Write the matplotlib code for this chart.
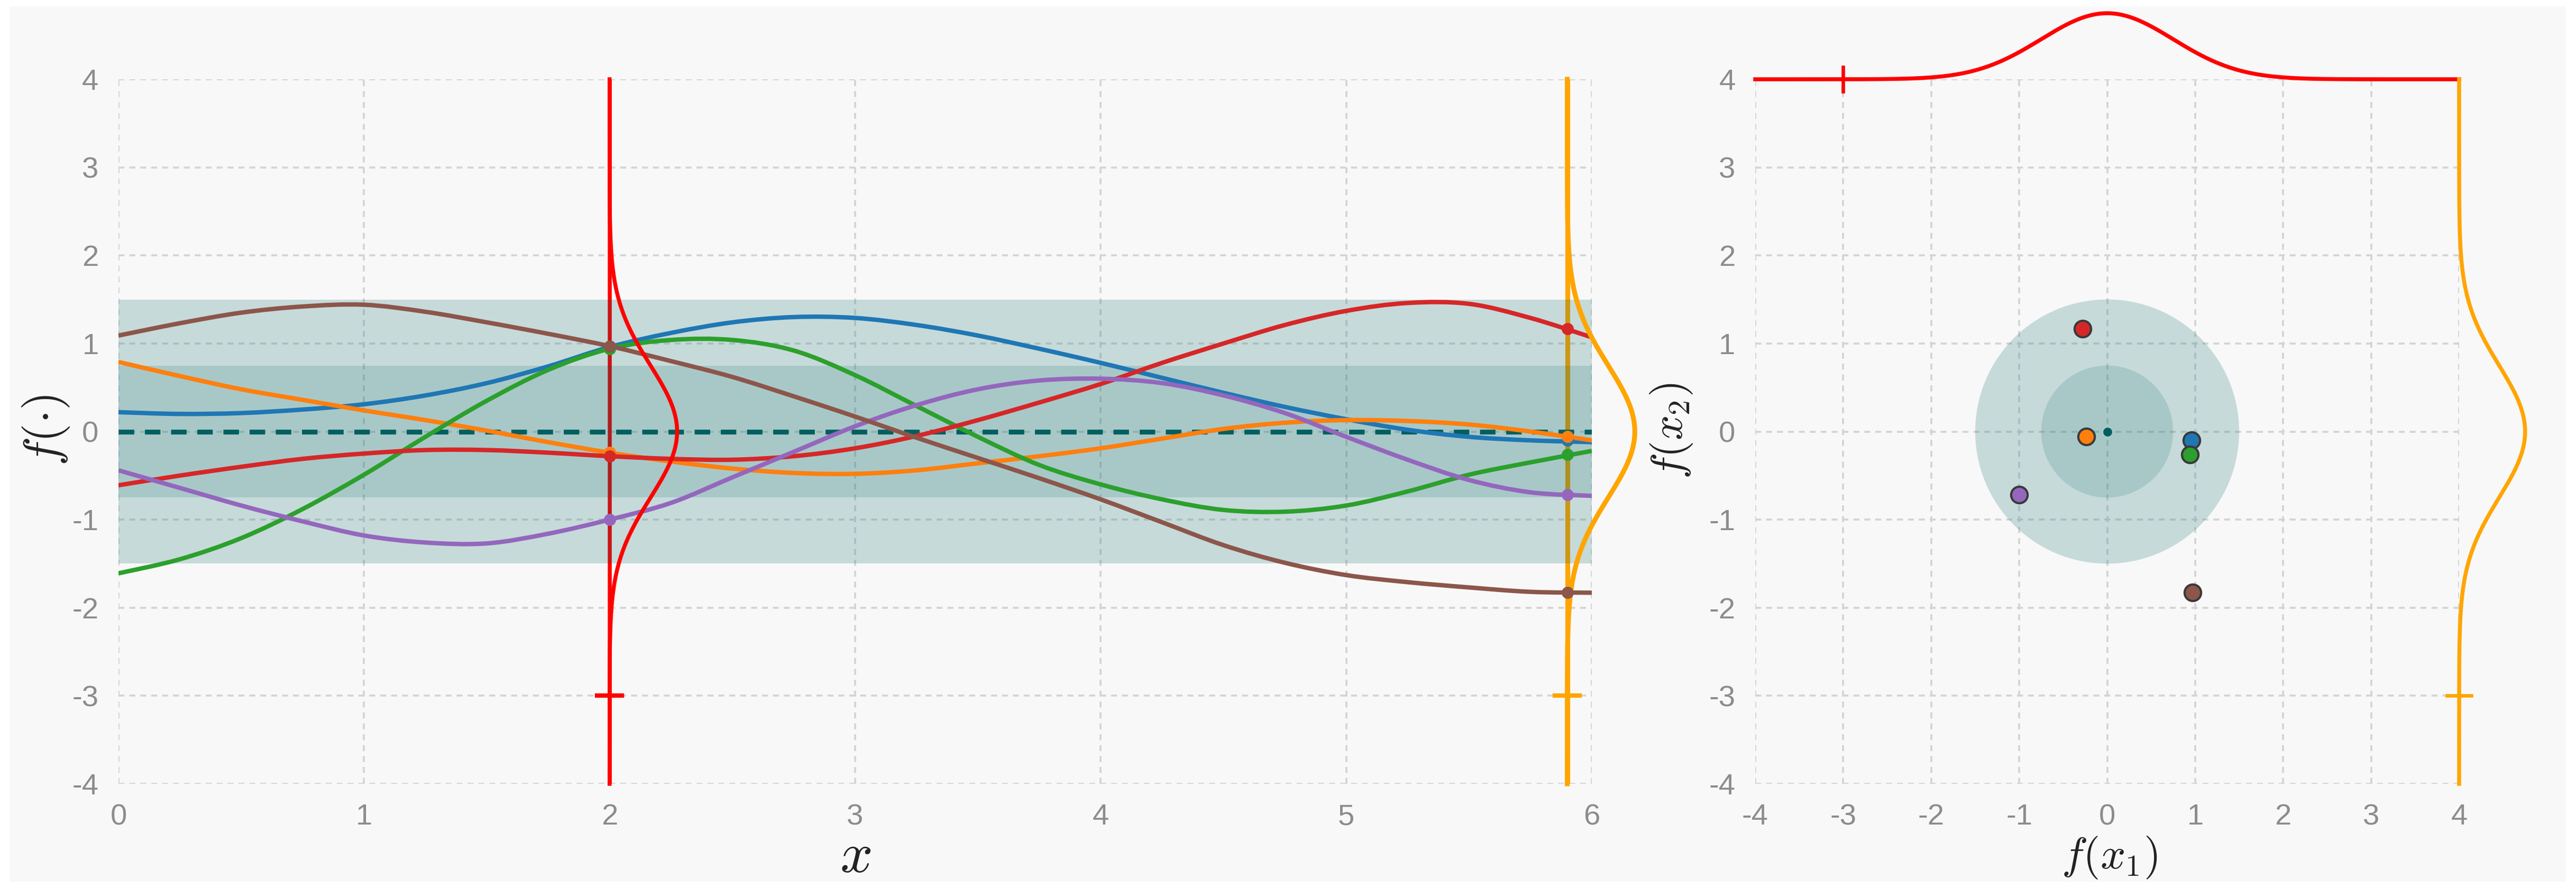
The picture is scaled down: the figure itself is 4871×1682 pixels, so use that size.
import numpy as np
import matplotlib.pyplot as plt
from matplotlib.patches import Circle, Rectangle, PathPatch
from matplotlib.path import Path

# Fonts and text style
plt.rcParams['font.family'] = ['Liberation Sans', 'DejaVu Sans']
plt.rcParams['mathtext.fontset'] = 'cm'
plt.rcParams['axes.unicode_minus'] = False

# -----------------------------
# Data
# -----------------------------
xGrid = [0.0, 0.25, 0.5, 0.75, 1.0, 1.25, 1.5, 1.75, 2.0, 2.25, 2.5, 2.75, 3.0,
         3.25, 3.5, 3.75, 4.0, 4.25, 4.5, 4.75, 5.0, 5.25, 5.5, 5.75, 6.0]

sampleBlue = [0.22, 0.20, 0.21, 0.25, 0.31, 0.41, 0.55, 0.74, 0.96, 1.12, 1.24, 1.30, 1.29,
              1.21, 1.09, 0.94, 0.78, 0.61, 0.44, 0.28, 0.14, 0.02, -0.06, -0.10, -0.12]
sampleOrange = [0.79, 0.63, 0.48, 0.36, 0.24, 0.13, 0.01, -0.12, -0.24, -0.34, -0.42, -0.47, -0.48,
                -0.44, -0.36, -0.28, -0.19, -0.08, 0.03, 0.10, 0.13, 0.12, 0.08, 0.0, -0.10]
sampleGreen = [-1.61, -1.45, -1.21, -0.88, -0.49, -0.06, 0.35, 0.70, 0.94, 1.04, 1.04, 0.92, 0.64,
               0.29, -0.06, -0.38, -0.60, -0.77, -0.89, -0.91, -0.84, -0.68, -0.49, -0.35, -0.22]
sampleRed = [-0.61, -0.50, -0.40, -0.31, -0.25, -0.21, -0.21, -0.24, -0.28, -0.31, -0.32, -0.28, -0.19,
             -0.05, 0.13, 0.33, 0.54, 0.78, 1.00, 1.21, 1.37, 1.46, 1.45, 1.29, 1.07]
samplePurple = [-0.44, -0.64, -0.84, -1.02, -1.18, -1.26, -1.27, -1.16, -1.00, -0.81, -0.52, -0.23, 0.06,
                0.30, 0.48, 0.58, 0.60, 0.55, 0.41, 0.21, -0.06, -0.32, -0.55, -0.69, -0.73]
sampleBrown = [1.09, 1.23, 1.35, 1.42, 1.44, 1.36, 1.24, 1.11, 0.97, 0.80, 0.62, 0.40, 0.17,
               -0.07, -0.30, -0.53, -0.77, -1.03, -1.29, -1.49, -1.63, -1.71, -1.77, -1.82, -1.83]

samples = [sampleBlue, sampleOrange, sampleGreen, sampleRed, samplePurple, sampleBrown]
sampleColors = ["#1f77b4", "#ff7f0e", "#2ca02c", "#d62728", "#9467bd", "#8c564b"]

# The two input locations and the sample values there
x1 = 2.0
x2 = 5.9
fx1 = [0.96, -0.24, 0.94, -0.28, -1.00, 0.97]
fx2 = [-0.10, -0.06, -0.26, 1.17, -0.72, -1.83]

# Prior mean / std
priorMean = 0.0
priorStd = 0.75

# Styling
bandColor = "#006666"
meanColor = "#005f5f"
redLine = "#ff0000"
orangeLine = "#ffa500"
tickColor = "#8c8c8c"
gridColor = "#d4d4d4"
bgColor = "#f8f8f8"


def gauss(v, mu, sd):
    return np.exp(-0.5 * ((v - mu) / sd) ** 2)


def smooth_path(xs, ys):
    # Catmull-Rom through the read points, drawn as cubic Bezier segments
    p = np.column_stack([xs, ys]).astype(float)
    ext = np.vstack([p[0], p, p[-1]])
    verts = [p[0]]
    codes = [Path.MOVETO]
    for i in range(len(p) - 1):
        p0, p1, p2, p3 = ext[i], ext[i + 1], ext[i + 2], ext[i + 3]
        verts += [p1 + (p2 - p0) / 6.0, p2 - (p3 - p1) / 6.0, p2]
        codes += [Path.CURVE4] * 3
    return Path(verts, codes)


def style_axes(ax, xlim, ylim, xticks, yticks):
    ax.set_facecolor("none")
    ax.set_xlim(*xlim)
    ax.set_ylim(*ylim)
    ax.set_xticks(xticks)
    ax.set_yticks(yticks)
    ax.set_xticklabels([str(t) for t in xticks])
    ax.set_yticklabels([str(t) for t in yticks])
    ax.tick_params(length=0, pad=9, labelsize=13.5, labelcolor=tickColor)
    for s in ax.spines.values():
        s.set_visible(False)
    ax.grid(True, color=gridColor, lw=0.9, linestyle=(0, (3, 2.5)), zorder=0)
    ax.set_axisbelow(True)


W, H = 4871, 1682
fig = plt.figure(figsize=(W / 300, H / 300), dpi=300, facecolor="white")
fig.patches.append(Rectangle((18 / W, 14 / H), 1 - 37 / W, 1 - 26 / H, transform=fig.transFigure,
                             facecolor=bgColor, edgecolor="none", zorder=-10))

axL = fig.add_axes([224 / W, (H - 1483) / H, 2786 / W, 1333 / H])
axR = fig.add_axes([3319 / W, (H - 1483) / H, 1331 / W, 1333 / H])

# -------------------
# Left: function space
# -------------------
style_axes(axL, (0, 6), (-4, 4), [0, 1, 2, 3, 4, 5, 6], [-4, -3, -2, -1, 0, 1, 2, 3, 4])

yy = np.linspace(-4, 4, 600)
densLeft = 0.275  # peak width in x units

# Vertical lines at the two inputs (under the bands)
axL.plot([x1, x1], [-4, 4], color=redLine, lw=1.8, zorder=1, solid_capstyle="butt")
axL.plot([x2, x2], [-4, 4], color=orangeLine, lw=2.2, zorder=1, solid_capstyle="butt")
axL.plot([x1 - 0.05, x1 + 0.05], [-3, -3], color=redLine, lw=2.0, zorder=1)
axL.plot([x2 - 0.05, x2 + 0.05], [-3, -3], color=orangeLine, lw=2.0, zorder=1)

# Prior bands
axL.fill_between([0, 6], priorMean - 2 * priorStd, priorMean + 2 * priorStd,
                 color=bandColor, alpha=0.2, lw=0, zorder=2)
axL.fill_between([0, 6], priorMean - priorStd, priorMean + priorStd,
                 color=bandColor, alpha=0.15, lw=0, zorder=2)
axL.plot([0, 6], [priorMean, priorMean], color=meanColor, lw=2.2,
         linestyle=(0, (3.2, 2.2)), zorder=3)

# Sample functions
for vals, c in zip(samples, sampleColors):
    axL.add_patch(PathPatch(smooth_path(xGrid, vals), facecolor="none", edgecolor=c,
                            lw=2.0, zorder=4, capstyle="butt"))

# Marginal densities at x1 and x2
axL.plot(x1 + densLeft * gauss(yy, priorMean, priorStd), yy, color=redLine, lw=1.8,
         zorder=5, clip_on=False)
axL.plot(x2 + densLeft * gauss(yy, priorMean, priorStd), yy, color=orangeLine, lw=2.2,
         zorder=5, clip_on=False)

# Sample points
for a, b, c in zip(fx1, fx2, sampleColors):
    axL.plot([x1, x2], [a, b], "o", ms=5.5, color=c, mec="none", zorder=6, clip_on=False)

# -------------------------
# Right: joint distribution
# -------------------------
style_axes(axR, (-4, 4), (-4, 4), [-4, -3, -2, -1, 0, 1, 2, 3, 4], [-4, -3, -2, -1, 0, 1, 2, 3, 4])

axR.add_patch(Circle((priorMean, priorMean), 2 * priorStd, facecolor=bandColor, alpha=0.2,
                     edgecolor="none", zorder=2))
axR.add_patch(Circle((priorMean, priorMean), priorStd, facecolor=bandColor, alpha=0.15,
                     edgecolor="none", zorder=2))
axR.plot([priorMean], [priorMean], "o", ms=3, color=meanColor, zorder=3)

for a, b, c in zip(fx1, fx2, sampleColors):
    axR.plot([a], [b], "o", ms=7.5, color=c, mec="#3a3a3a", mew=1.0, zorder=5)

densRight = 0.75
xx = np.linspace(-4, 4, 600)
axR.plot(xx, 4 + densRight * gauss(xx, priorMean, priorStd), color=redLine, lw=1.8,
         zorder=6, clip_on=False)
axR.plot([-3, -3], [4 - 0.14, 4 + 0.14], color=redLine, lw=1.6, zorder=6, clip_on=False)
axR.plot(4 + densRight * gauss(yy, priorMean, priorStd), yy, color=orangeLine, lw=1.8,
         zorder=6, clip_on=False)
axR.plot([4 - 0.14, 4 + 0.14], [-3, -3], color=orangeLine, lw=1.6, zorder=6, clip_on=False)

# Axis labels
fig.text(1617 / W, 1 - 1622 / H, r"$x$", fontsize=26, ha="center", va="center", color="#222222")
fig.text(87 / W, 1 - 814 / H, r"$f(\cdot)$", fontsize=22, ha="center", va="center",
         rotation=90, color="#222222")
fig.text(3989 / W, 1 - 1622 / H, r"$f(x_1)$", fontsize=20, ha="center", va="center", color="#222222")
fig.text(3160 / W, 1 - 815 / H, r"$f(x_2)$", fontsize=20, ha="center", va="center",
         rotation=90, color="#222222")

fig.savefig("out.png", dpi=300, facecolor="white")
